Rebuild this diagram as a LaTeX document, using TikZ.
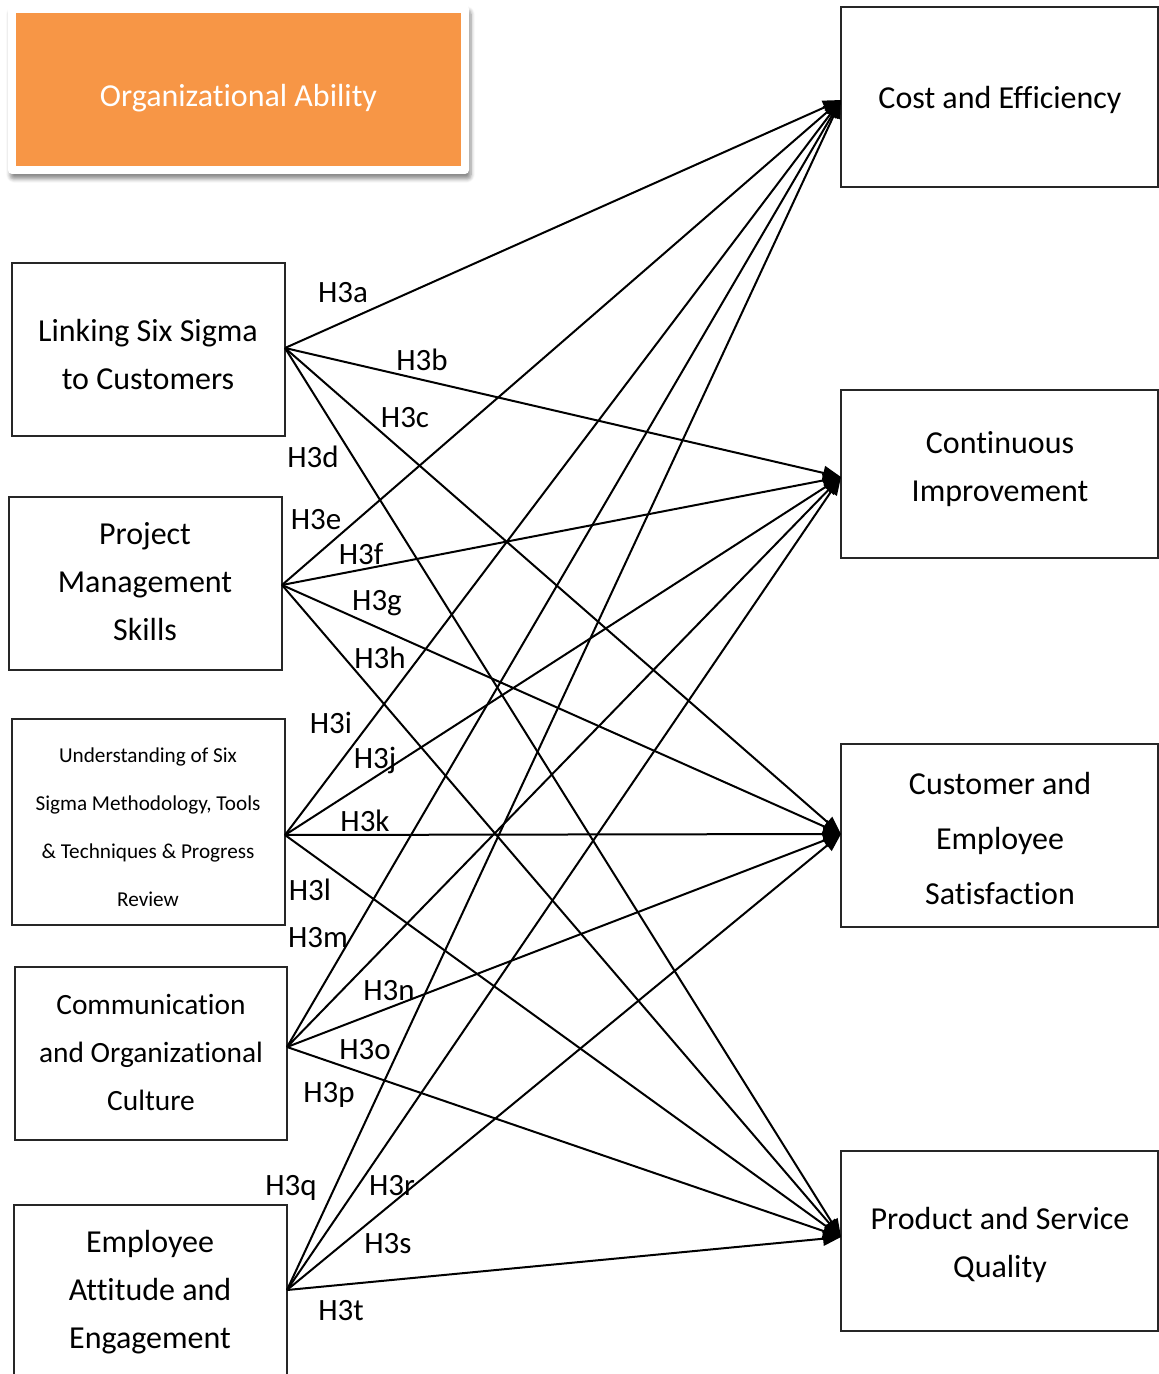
\documentclass[tikz,border=0pt]{standalone}
\usepackage{fontspec}
\setmainfont{Carlito}[Ligatures=NoCommon]
\usetikzlibrary{arrows.meta,shadows.blur}
\begin{document}
\begin{tikzpicture}[x=0.5pt,y=-0.5pt,
  box/.style={draw=black!85,line width=1pt,inner sep=0pt,fill=none},
  txt/.style={align=center,font=\fontsize{16}{24}\selectfont,inner sep=0pt},
  small/.style={align=center,font=\fontsize{10.6}{24}\selectfont,inner sep=0pt},
  hyp/.style={font=\fontsize{15.5}{18}\selectfont,inner sep=0pt},
  link/.style={line width=1pt,-{Triangle[length=9pt,width=7pt]}}]
\useasboundingbox (0,0) rectangle (1159,1374);
\clip (0,0) rectangle (1159,1374);

% title block
\node[fill=white,rounded corners=2pt,minimum width=230.5pt,minimum height=84.5pt,
      blur shadow={shadow xshift=1pt,shadow yshift=-2.5pt,shadow blur steps=6,shadow opacity=45}] (frame) at (238.5,89.5) {};
\node[fill={rgb,255:red,247;green,150;blue,70},minimum width=222.5pt,minimum height=76.5pt,inner sep=0pt] (title) at (238.5,89.5) {};
\node[txt,text=white] (titletext) at (238.5,98) {Organizational Ability};

% left boxes
\node[box,minimum width=136.5pt,minimum height=86.5pt] (b1) at (148.5,349.5) {};
\node[box,minimum width=136.5pt,minimum height=86.5pt] (b2) at (145.5,583.5) {};
\node[box,minimum width=136.5pt,minimum height=103pt] (b3) at (148.5,822) {};
\node[box,minimum width=136pt,minimum height=86.5pt] (b4) at (151,1053.5) {};
\node[box,minimum width=136.5pt,minimum height=110pt] (b5) at (150.5,1315) {};

\node[txt] (t1) at (148,355) {Linking Six Sigma\\to Customers};
\node[txt] (t2) at (145,582) {Project\\Management\\Skills};
\node[small] (t3) at (148,827) {Understanding of Six\\Sigma Methodology, Tools\\\& Techniques \& Progress\\Review};
\node[txt,font=\fontsize{14.7}{24}\selectfont] (t4) at (151,1052) {Communication\\and Organizational\\Culture};
\node[txt] (t5) at (150,1292) {Employee\\Attitude and\\Engagement};

% right boxes
\node[box,minimum width=158.5pt,minimum height=90pt] (ra) at (999.5,97) {};
\node[box,minimum width=158.5pt,minimum height=84pt] (rb) at (999.5,474) {};
\node[box,minimum width=158.5pt,minimum height=91.5pt] (rc) at (999.5,835.5) {};
\node[box,minimum width=158.5pt,minimum height=90pt] (rd) at (999.5,1241) {};

\node[txt] (ta) at (1000,100) {Cost and Efficiency};
\node[txt] (tb) at (1000,469) {Continuous\\Improvement};
\node[txt,font=\fontsize{16}{27.5}\selectfont] (tc) at (1000,838) {Customer and\\Employee\\Satisfaction};
\node[txt] (td) at (1000,1245) {Product and Service\\Quality};

% connector ends
\coordinate (s1) at (285,348);
\coordinate (s2) at (282,585);
\coordinate (s3) at (285,835);
\coordinate (s4) at (287,1047);
\coordinate (s5) at (287,1290);
\coordinate (ea) at (841,100);
\coordinate (eb) at (841,477);
\coordinate (ec) at (841,834);
\coordinate (ed) at (841,1237);

% hypothesis labels
\node[hyp] (h3a) at (343,293) {H3a};
\node[hyp] (h3b) at (422,360) {H3b};
\node[hyp] (h3c) at (405,418) {H3c};
\node[hyp] (h3d) at (313,457) {H3d};
\node[hyp] (h3e) at (316,520) {H3e};
\node[hyp] (h3f) at (361,554) {H3f};
\node[hyp] (h3g) at (377,603) {H3g};
\node[hyp] (h3h) at (380,658) {H3h};
\node[hyp] (h3i) at (331,723) {H3i};
\node[hyp] (h3j) at (375,760) {H3j};
\node[hyp] (h3k) at (365,821) {H3k};
\node[hyp] (h3l) at (310,890) {H3l};
\node[hyp] (h3m) at (318,938) {H3m};
\node[hyp] (h3n) at (389,991) {H3n};
\node[hyp] (h3o) at (365,1050) {H3o};
\node[hyp] (h3p) at (329,1095) {H3p};
\node[hyp] (h3q) at (291,1188) {H3q};
\node[hyp] (h3r) at (392,1186) {H3r};
\node[hyp] (h3s) at (388,1244) {H3s};
\node[hyp] (h3t) at (341,1311) {H3t};

% every factor points to every outcome
\foreach \s in {s1,s2,s3,s4,s5}
  \foreach \e in {ea,eb,ec,ed}
    \draw[link] (\s) -- (\e);
\end{tikzpicture}
\end{document}
